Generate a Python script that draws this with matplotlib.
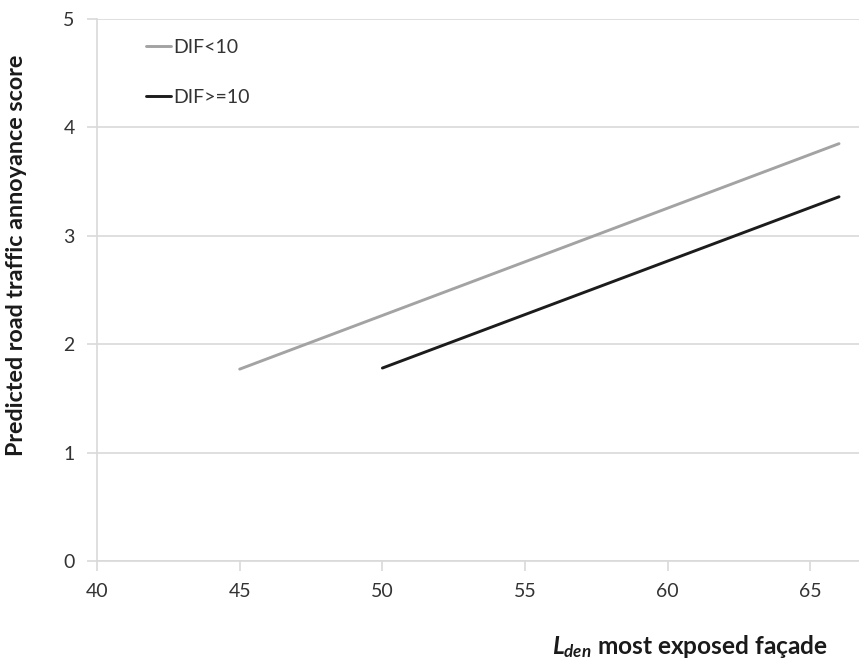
import matplotlib
matplotlib.use('Agg')
import matplotlib.pyplot as plt

plt.rcParams['font.family'] = ['Lato', 'DejaVu Sans']
plt.rcParams['mathtext.fontset'] = 'custom'
plt.rcParams['mathtext.it'] = 'Lato:italic:bold'
plt.rcParams['mathtext.rm'] = 'Lato:bold'

# predicted annoyance score vs Lden
lden_low = [45, 66]
score_low = [1.77, 3.85]
lden_high = [50, 66]
score_high = [1.78, 3.36]
labels = ['DIF<10', 'DIF>=10']
x_ticks = [40, 45, 50, 55, 60, 65]
y_ticks = [0, 1, 2, 3, 4, 5]

W, H = 859, 665
fig = plt.figure(figsize=(W / 100, H / 100), dpi=100)
ax = fig.add_axes([97 / W, (H - 561) / H, 1 - 97 / W, 542 / H])

ax.plot(lden_low, score_low, color='#a3a3a3', lw=2.1, label=labels[0], solid_capstyle='round')
ax.plot(lden_high, score_high, color='#1c1c1c', lw=2.1, label=labels[1], solid_capstyle='round')

ax.set_xlim(40, 66.7)
ax.set_ylim(0, 5)
ax.set_xticks(x_ticks)
ax.set_yticks(y_ticks)
ax.grid(axis='y', color='#d9d9d9', lw=1.2)
ax.set_axisbelow(True)
for s in ['top', 'right']:
    ax.spines[s].set_visible(False)
for s in ['left', 'bottom']:
    ax.spines[s].set_color('#d9d9d9')
    ax.spines[s].set_linewidth(1.2)
ax.tick_params(axis='both', colors='#d9d9d9', labelcolor='#333333', labelsize=14,
               length=7, width=1.2)
ax.tick_params(axis='x', pad=9)
ax.tick_params(axis='y', pad=9)

ylab = fig.text(17 / W, 1 - 255 / H, 'Predicted road traffic annoyance score', rotation=90,
                ha='center', va='center', fontsize=16, fontweight='bold', color='#1a1a1a')
xlab = fig.text(828 / W, 1 - 654 / H, r'$L_{den}$ most exposed façade', ha='right',
                va='baseline', fontsize=16, fontweight='bold', color='#1a1a1a')

# scale the axis titles so they span the same length as in the source
r = fig.canvas.get_renderer()
h = ylab.get_window_extent(r).height
ylab.set_fontsize(16 * 405 / h)
w = xlab.get_window_extent(r).width
xlab.set_fontsize(16 * 276 / w)

ax.legend(loc='upper left', bbox_to_anchor=(0.041, 0.996), frameon=False, fontsize=14,
          handlelength=1.3, handletextpad=0.1, labelspacing=1.7, labelcolor='#333333')

plt.savefig('out.png')
